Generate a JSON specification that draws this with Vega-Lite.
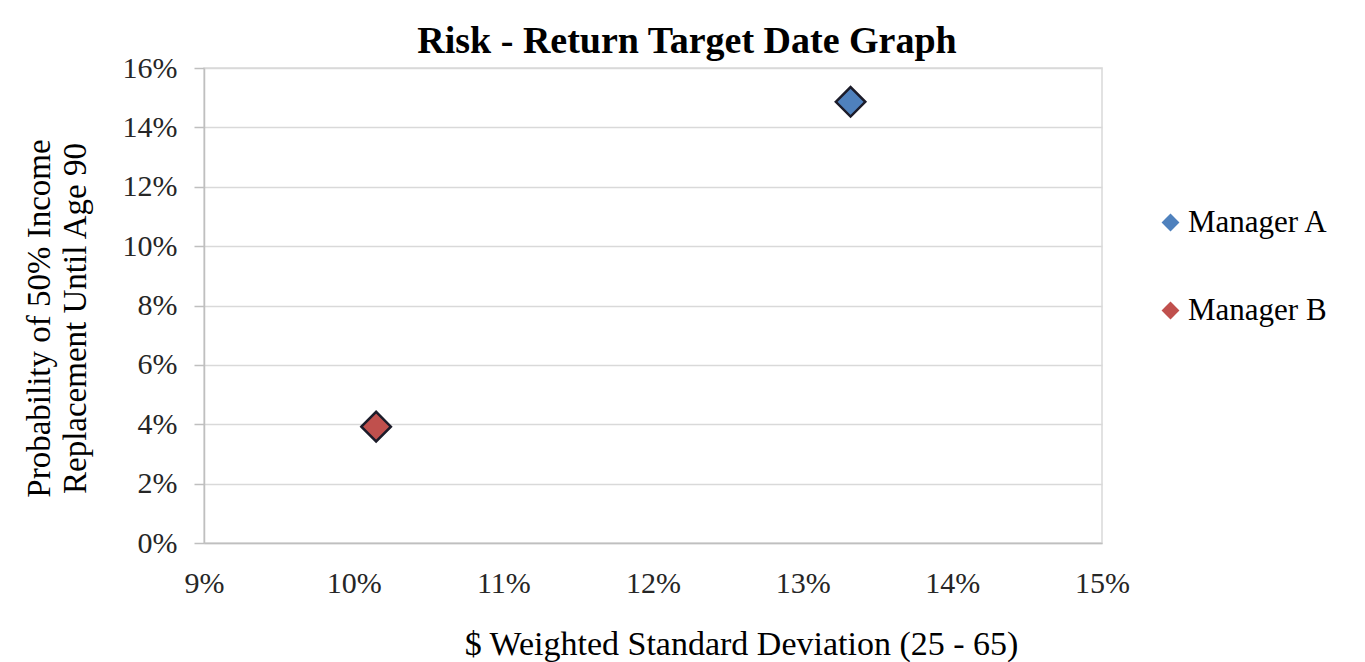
{
  "$schema": "https://vega.github.io/schema/vega-lite/v6.json",
  "autosize": "none",
  "width": 898,
  "height": 475,
  "padding": {"left": 204, "top": 68, "right": 263, "bottom": 119},
  "background": "#ffffff",
  "title": {
    "text": "Risk - Return Target Date Graph",
    "font": "Liberation Serif",
    "fontSize": 38,
    "fontWeight": "bold",
    "color": "#000000",
    "anchor": "middle",
    "dx": 34,
    "offset": -8
  },
  "data": {
    "values": [
      {"manager": "Manager A", "stdev": 0.1332, "probability": 0.1486},
      {"manager": "Manager B", "stdev": 0.1015, "probability": 0.0392}
    ]
  },
  "mark": {"type": "point", "shape": "diamond", "filled": true, "size": 870, "stroke": "#1c1c2a", "strokeWidth": 2.5, "opacity": 1},
  "encoding": {
    "x": {
      "field": "stdev",
      "type": "quantitative",
      "scale": {"domain": [0.09, 0.15], "nice": false, "zero": false},
      "axis": {
        "title": "$ Weighted Standard Deviation (25 - 65)",
        "values": [0.09, 0.10, 0.11, 0.12, 0.13, 0.14, 0.15],
        "format": ".0%",
        "grid": false,
        "ticks": false,
        "labelFlush": false,
        "labelPadding": 25,
        "titlePadding": 29,
        "titleX": 537,
        "titleFontSize": 34
      }
    },
    "y": {
      "field": "probability",
      "type": "quantitative",
      "scale": {"domain": [0, 0.16], "nice": false},
      "axis": {
        "title": ["Probability of 50% Income", "Replacement Until Age 90"],
        "values": [0, 0.02, 0.04, 0.06, 0.08, 0.10, 0.12, 0.14, 0.16],
        "format": ".0%",
        "grid": true,
        "tickSize": 10,
        "labelPadding": 17,
        "titlePadding": 30,
        "titleLineHeight": 36,
        "titleY": 250
      }
    },
    "fill": {
      "field": "manager",
      "type": "nominal",
      "scale": {"domain": ["Manager A", "Manager B"], "range": ["#4f81bd", "#c0504d"]},
      "legend": {
        "title": null,
        "orient": "none",
        "legendX": 951,
        "legendY": 139,
        "padding": 0,
        "symbolType": "diamond",
        "symbolSize": 320,
        "symbolStrokeWidth": 0,
        "symbolOpacity": 1,
        "labelFont": "Liberation Serif",
        "labelFontSize": 31,
        "labelColor": "#000000",
        "labelOffset": 2,
        "rowPadding": 56
      }
    }
  },
  "config": {
    "view": {"stroke": "#d9d9d9", "strokeWidth": 1.5},
    "axis": {
      "labelFont": "Liberation Serif",
      "labelFontSize": 30,
      "labelColor": "#262626",
      "titleFont": "Liberation Serif",
      "titleFontSize": 33,
      "titleFontWeight": "normal",
      "titleColor": "#000000",
      "domainColor": "#bfbfbf",
      "domainWidth": 1.5,
      "tickColor": "#bfbfbf",
      "tickWidth": 1.5,
      "gridColor": "#d9d9d9",
      "gridWidth": 1.5
    }
  }
}
